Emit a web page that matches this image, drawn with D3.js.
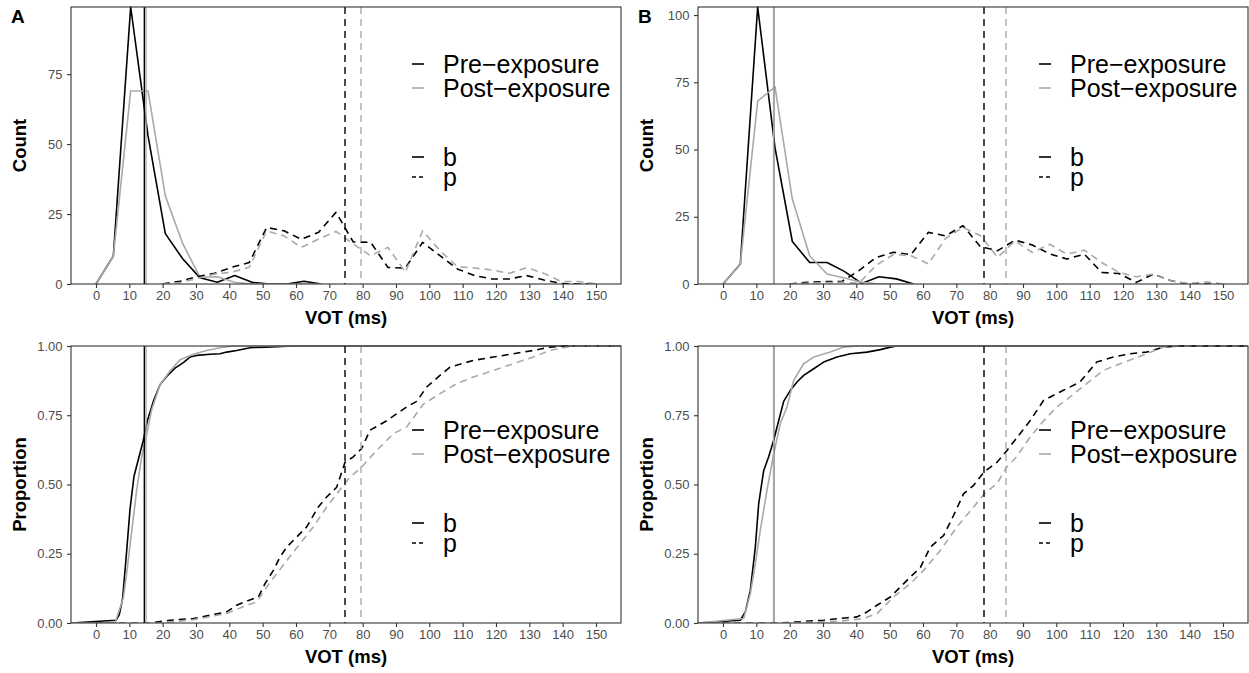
<!DOCTYPE html>
<html><head><meta charset="utf-8">
<script src="https://cdn.jsdelivr.net/npm/d3@7"></script>
<style>
body{margin:0;background:#fff}
svg{display:block}
text{font-family:"Liberation Sans",Arial,Helvetica,sans-serif}
</style>
</head><body>
<svg id="c" width="1249" height="673"></svg>
<script>
// ---------- tick labels ----------
const xTicks = [0,10,20,30,40,50,60,70,80,90,100,110,120,130,140,150];
const countTicksA = [0,25,50,75];
const countTicksB = [0,25,50,75,100];
const propTicks = [0,0.25,0.5,0.75,1];
const groups = ["Pre\u2212exposure","Post\u2212exposure"];
const categories = ["b","p"];

// ---------- Panel A, counts ----------
const bBinsA = [0,5.2,10.4,15.6,20.8,26,31.2,36.4,41.6,46.8,52,57.2,62.4,67.6];
const preB_A  = [0,10,99,53,18,9,2.2,0.6,3,0.6,0,0,1,0];
const postB_A = [0,10,69,69,31.5,14.5,2.4,2.6,0.6,0,0,0,0,0];
const pBins = [20,25.2,30.4,35.6,40.8,46,51.2,56.4,61.6,66.8,72,77.2,82.4,87.6,92.8,98,103.2,108.4,113.6,118.8,124,129.2,134.4,139.6,144.8,150];
const preP_A  = [0,1,2.6,3.8,6,7.7,20.2,19,16,18.5,25.6,15,14.9,5.9,5.7,14.9,10.1,5.4,3,1.8,1.8,3,1.4,0.2,0,0];
const postP_A = [0,0.5,2,3.6,4.2,6,19,17.2,13.1,16.1,18.8,14.3,10.1,13.1,4.2,19,11.9,6.2,5.7,5,3.8,5.9,3.8,0.9,0.9,0];

// ---------- Panel B, counts ----------
const bBinsB = [0,5.2,10.4,15.6,20.8,26,31.2,36.4,41.6,46.8,52,57.2];
const preB_B  = [0,7.4,103,50.7,15.8,8,8,4.7,0.2,2.7,1.9,0];
const postB_B = [0,7.4,68,73.3,31.6,10.5,3.7,2.2,0.6,0,0,0];
const preP_B  = [0,0.6,0.9,0.9,5,9.9,11.8,10.9,19.2,17.9,21.7,13.9,12.4,16.3,14.5,11.2,9.3,11.1,4.3,3.9,0.6,3.7,1.2,0,0,0];
const postP_B = [0,0.3,0.5,0.6,0.3,7,11,10.5,7.5,17,21,18,9.9,16,11.7,14.8,11.1,12.6,8,4.3,2.7,3.7,1.2,0.2,0.8,0];

// ---------- Panel A, cumulative proportions ----------
const ecdfPreB_A_x  = [6,7,8,9.2,10.2,11.4,12.7,14.2,15.4,17.2,19.2,21.2,23.7,26.2,28.2,30.2,34.2,37.2,39.2,42.2,46.2,51.2,59];
const ecdfPreB_A_y  = [0.01,0.03,0.09,0.26,0.41,0.53,0.59,0.66,0.73,0.80,0.86,0.89,0.92,0.94,0.96,0.966,0.97,0.972,0.978,0.984,0.994,0.996,1];
const ecdfPostB_A_x = [5.7,8.2,9.2,10.7,12.2,13.7,15.2,16.7,19.2,22.2,25.2,29.2,33.2,37.2,41.2];
const ecdfPostB_A_y = [0,0.09,0.18,0.33,0.48,0.6,0.68,0.77,0.86,0.91,0.95,0.97,0.984,0.994,1];
const ecdfPreP_A_x  = [16.2,22.2,29.2,34.2,39.2,42.2,45.2,48.7,50.7,53.2,55.2,57.2,60.2,63.2,66.7,69.2,72.2,74.7,77.2,79.7,82.2,87.2,93.2,96.2,99.2,103.2,106.2,113.2,119.2,125.2,131.2,136.2,141.2];
const ecdfPreP_A_y  = [0,0.01,0.016,0.028,0.04,0.064,0.079,0.094,0.142,0.19,0.238,0.274,0.31,0.347,0.419,0.455,0.49,0.58,0.6,0.63,0.696,0.73,0.78,0.80,0.852,0.894,0.924,0.948,0.96,0.972,0.984,0.996,1];
const ecdfPostP_A_x = [19.2,29.2,39.2,45.2,48.2,51.2,54.2,59.2,65.2,69.2,74.2,76.2,79.2,84.2,89.2,93.2,98.2,103.2,108.2,113.2,119.2,125.2,131.2,136.2,141.2,144.2];
const ecdfPostP_A_y = [0,0.012,0.034,0.064,0.076,0.13,0.178,0.256,0.347,0.419,0.497,0.527,0.557,0.623,0.683,0.708,0.79,0.828,0.864,0.888,0.912,0.936,0.96,0.984,0.996,1];

// ---------- Panel B, cumulative proportions ----------
const ecdfPreB_B_x  = [5.2,6.7,8.2,9.7,10.7,12.2,13.7,15.2,16.7,18.2,20.2,22.2,24.2,27.2,30.2,34.2,38.2,43.2,47.2,50.2,52.2];
const ecdfPreB_B_y  = [0.01,0.04,0.118,0.274,0.43,0.55,0.6,0.66,0.73,0.80,0.84,0.87,0.894,0.918,0.942,0.96,0.972,0.978,0.987,0.996,1];
const ecdfPostB_B_x = [6.2,8.2,9.7,11.2,13.2,15.2,17.2,19.2,21.2,24.2,27.2,32.2,36.2,40.2];
const ecdfPostB_B_y = [0.016,0.106,0.214,0.335,0.48,0.61,0.72,0.78,0.876,0.936,0.96,0.978,0.996,1];
const ecdfPreP_B_x  = [17.2,30.2,37.2,40.2,43.2,46.2,50.2,53.2,56.2,59.2,62.2,66.2,69.2,72.2,75.2,78.3,82.2,85.2,89.1,92.1,96.2,102.1,107.1,112.1,117.1,122.1,127.1,132.1,137.1];
const ecdfPreP_B_y  = [0,0.01,0.019,0.022,0.04,0.064,0.094,0.13,0.166,0.2,0.274,0.316,0.389,0.467,0.497,0.545,0.58,0.623,0.683,0.73,0.804,0.84,0.87,0.942,0.96,0.972,0.978,0.996,1];
const ecdfPostP_B_x = [20.2,35.2,42.2,46.2,51.2,56.2,60.2,65.2,70.2,75.2,78.4,82.2,85.1,88.1,92.1,96.2,100.1,104.1,109.1,114.1,119.1,123.1,127.1,132.1,138.1];
const ecdfPostP_B_y = [0,0.007,0.016,0.034,0.094,0.142,0.19,0.262,0.347,0.419,0.467,0.503,0.563,0.6,0.671,0.73,0.78,0.816,0.864,0.912,0.936,0.954,0.972,0.996,1];

// ---------- category means (vertical lines) ----------
const vA = {preB:14.5, postB:15.0, preP:74.7, postP:79.5};
const vB = {preB:15.2, postB:15.2, preP:78.3, postP:84.9};

// ---------- styling ----------
const BLACK = "#000000", GREY = "#a9a9a9";
const DASH = "7,5";
const svg = d3.select("#c");
const zip = (xs, ys) => xs.map((v,i)=>[v, ys[i]]);

function panel(o){
  const g = svg.append("g");
  const x = d3.scaleLinear().domain([-7.5,157.5]).range([o.x0,o.x1]);
  const y = d3.scaleLinear().domain(o.yDomain).range([o.y1,o.y0]);
  const clipId = "clip"+Math.round(o.x0)+"_"+Math.round(o.y0);
  svg.append("clipPath").attr("id",clipId).append("rect")
     .attr("x",o.x0).attr("y",o.y0-2).attr("width",o.x1-o.x0).attr("height",o.y1-o.y0+2);
  // axes
  const ax = g.append("g").attr("transform",`translate(0,${o.y1})`)
     .call(d3.axisBottom(x).tickValues(xTicks).tickSize(4).tickPadding(3).tickFormat(d3.format("d")));
  const ay = g.append("g").attr("transform",`translate(${o.x0},0)`)
     .call(d3.axisLeft(y).tickValues(o.yTicks).tickSize(4).tickPadding(4.5).tickFormat(o.fmt));
  [ax,ay].forEach(a=>{
    a.select(".domain").remove();
    a.selectAll(".tick line").attr("stroke","#333").attr("stroke-width",1.1);
    a.selectAll(".tick text").attr("fill","#4d4d4d").style("font-size","13px");
  });
  const plot = g.append("g").attr("clip-path",`url(#${clipId})`);
  const line = d3.line().x(d=>x(d[0])).y(d=>y(d[1]));
  o.series.forEach(s=>{
    plot.append("path").attr("d",line(s.data)).attr("fill","none")
      .attr("stroke",s.color).attr("stroke-width",1.6)
      .attr("stroke-linejoin","round")
      .attr("stroke-dasharray",s.dash?DASH:null);
  });
  o.vlines.forEach(v=>{
    plot.append("line").attr("x1",x(v.x)).attr("x2",x(v.x)).attr("y1",o.y0).attr("y2",o.y1)
      .attr("stroke",v.color).attr("stroke-width",1.4)
      .attr("stroke-dasharray",v.dash?DASH:null);
  });
  g.append("rect").attr("x",o.x0).attr("y",o.y0).attr("width",o.x1-o.x0).attr("height",o.y1-o.y0)
    .attr("fill","none").attr("stroke","#333").attr("stroke-width",1.1);
  // axis titles
  g.append("text").attr("x",(o.x0+o.x1)/2).attr("y",o.y1+40).attr("text-anchor","middle")
    .style("font-size","18.5px").style("font-weight","bold").text("VOT (ms)");
  g.append("text").attr("transform",`translate(${o.x0-45},${(o.y0+o.y1)/2}) rotate(-90)`)
    .attr("text-anchor","middle").style("font-size","18.5px").style("font-weight","bold").text(o.yTitle);
  // legends
  const kx0 = o.x1-209, kx1 = o.x1-197, tx = o.x1-178;
  const legRows = [
    {t:groups[0], c:BLACK, dash:null, b:o.leg[0]},
    {t:groups[1], c:GREY, dash:null, b:o.leg[1]},
    {t:categories[0], c:BLACK, dash:null, b:o.leg[2]},
    {t:categories[1], c:BLACK, dash:"4,3", b:o.leg[3]}
  ];
  legRows.forEach(r=>{
    g.append("line").attr("x1",kx0).attr("x2",kx1).attr("y1",r.b-9).attr("y2",r.b-9)
      .attr("stroke",r.c).attr("stroke-width",1.6).attr("stroke-dasharray",r.dash);
    g.append("text").attr("x",tx).attr("y",r.b).style("font-size","25px").attr("fill","#000").text(r.t);
  });
}

function countSeries(bx, pre, post, pre2, post2){
  return [
    {data:zip(bx,pre), color:BLACK, dash:false},
    {data:zip(bx,post), color:GREY, dash:false},
    {data:zip(pBins,pre2), color:BLACK, dash:true},
    {data:zip(pBins,post2), color:GREY, dash:true}
  ];
}
function ecdf(xs, ys){ return [[-7.5,0], ...zip(xs,ys), [157.5,1]]; }
function vlines(v){
  return [
    {x:v.preB,color:BLACK,dash:false},{x:v.postB,color:GREY,dash:false},
    {x:v.preP,color:BLACK,dash:true},{x:v.postP,color:GREY,dash:true}
  ];
}
const topLeg = [73,97,166,186], botLeg = [439,463,532,552];
const fmtInt = d3.format("d"), fmtProp = d3.format(".2f");

panel({x0:71,x1:621,y0:7,y1:284, yDomain:[0,d3.max(preB_A)], yTicks:countTicksA, fmt:fmtInt, yTitle:"Count",
  series:countSeries(bBinsA,preB_A,postB_A,preP_A,postP_A), vlines:vlines(vA), leg:topLeg});
panel({x0:698,x1:1248,y0:7,y1:284, yDomain:[0,d3.max(preB_B)], yTicks:countTicksB, fmt:fmtInt, yTitle:"Count",
  series:countSeries(bBinsB,preB_B,postB_B,preP_B,postP_B), vlines:vlines(vB), leg:topLeg});
panel({x0:71,x1:621,y0:346,y1:623, yDomain:[0,1], yTicks:propTicks, fmt:fmtProp, yTitle:"Proportion",
  series:[
    {data:ecdf(ecdfPreB_A_x,ecdfPreB_A_y),color:BLACK,dash:false},
    {data:ecdf(ecdfPostB_A_x,ecdfPostB_A_y),color:GREY,dash:false},
    {data:ecdf(ecdfPreP_A_x,ecdfPreP_A_y),color:BLACK,dash:true},
    {data:ecdf(ecdfPostP_A_x,ecdfPostP_A_y),color:GREY,dash:true}
  ], vlines:vlines(vA), leg:botLeg});
panel({x0:698,x1:1248,y0:346,y1:623, yDomain:[0,1], yTicks:propTicks, fmt:fmtProp, yTitle:"Proportion",
  series:[
    {data:ecdf(ecdfPreB_B_x,ecdfPreB_B_y),color:BLACK,dash:false},
    {data:ecdf(ecdfPostB_B_x,ecdfPostB_B_y),color:GREY,dash:false},
    {data:ecdf(ecdfPreP_B_x,ecdfPreP_B_y),color:BLACK,dash:true},
    {data:ecdf(ecdfPostP_B_x,ecdfPostP_B_y),color:GREY,dash:true}
  ], vlines:vlines(vB), leg:botLeg});

// panel tags
svg.append("text").attr("x",11).attr("y",23).style("font-size","19px").style("font-weight","bold").text("A");
svg.append("text").attr("x",638).attr("y",23).style("font-size","19px").style("font-weight","bold").text("B");
</script>
</body></html>
